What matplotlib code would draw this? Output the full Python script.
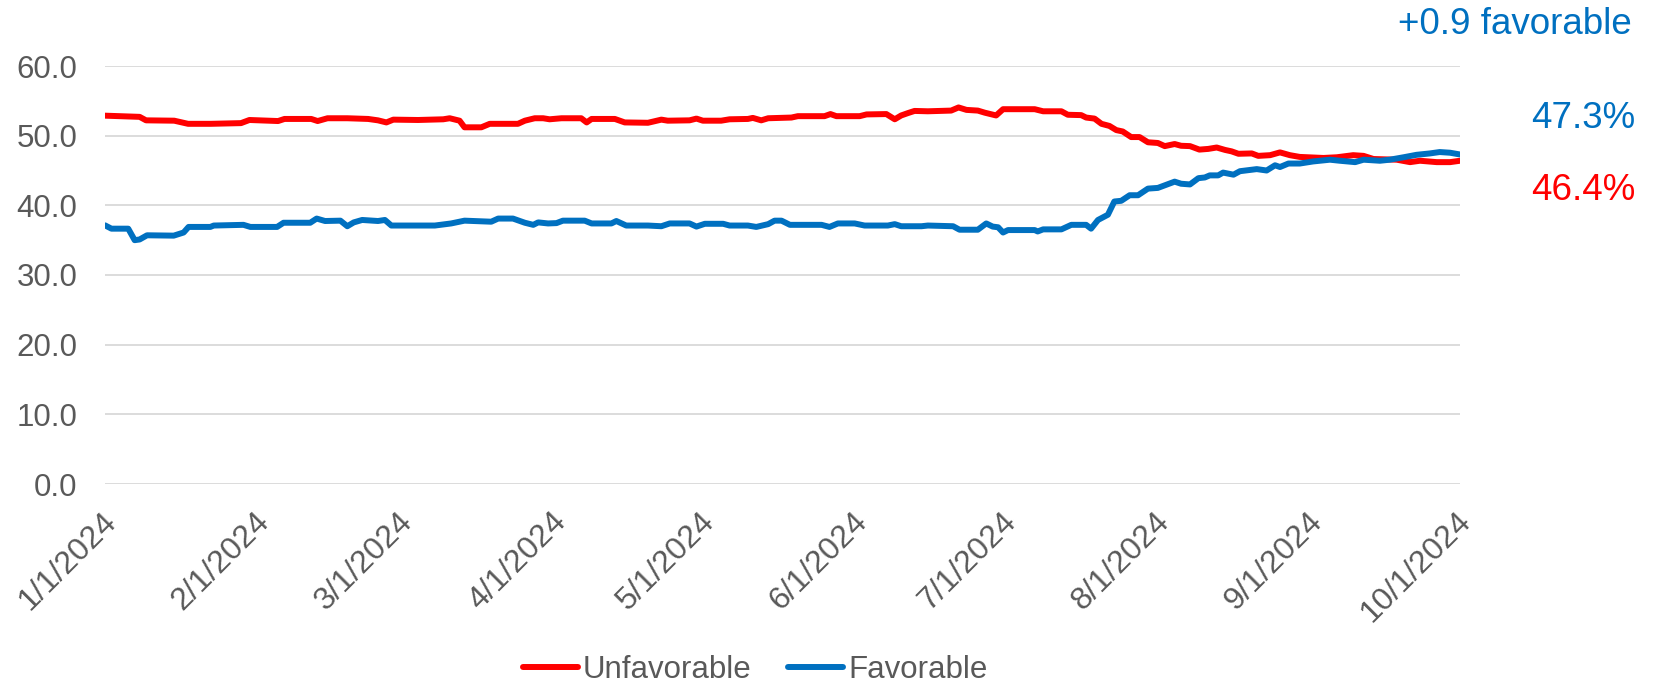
import matplotlib
matplotlib.use("Agg")
import matplotlib.pyplot as plt
import matplotlib.dates as mdates
import matplotlib.transforms as mtransforms
import numpy as np
import pandas as pd

# days since 1/1/2024 and values
red_days = [0, 7, 8.3, 14, 16.8, 21.4, 27.5, 29.2, 35, 36.3, 41.7, 43, 45, 49, 53.2, 55.2, 56.9, 58.3,
            63.3, 68.4, 69.7, 71.7, 72.7, 76.1, 77.8, 83.5, 84.9, 86.9, 88.6, 89.9, 92.3, 96.3, 97.4,
            98.4, 103.1, 105.1, 109.8, 112.5, 113.8, 118.2, 119.6, 120.9, 124.6, 126.3, 130, 131,
            132.7, 134.1, 138.8, 140.1, 145.5, 146.7, 147.9, 152.6, 154, 158, 159.7, 161, 162.4,
            163.7, 166.4, 171.1, 172.6, 174.2, 176.5, 177.9, 180.2, 181.6, 188, 189.7, 193.4, 194.7,
            197.4, 198.4, 200.1, 201.5, 203.1, 204.5, 205.8, 207.5, 209.2, 210.9, 212.9, 214.3,
            216.3, 217.6, 219.4, 221.3, 223.1, 224.8, 226.5, 227.8, 229.2, 231.9, 233.2, 235.6,
            237.6, 239.6, 241.6, 246.4, 249.1, 252.4, 254.5, 256.5, 261.2, 263.9, 265.9, 269.3,
            272, 274]
red_vals = [52.87, 52.7, 52.2, 52.15, 51.7, 51.7, 51.8, 52.25, 52.1, 52.4, 52.4, 52.1, 52.5, 52.5, 52.4,
            52.2, 51.9, 52.3, 52.25, 52.35, 52.5, 52.15, 51.2, 51.2, 51.7, 51.7, 52.15, 52.5, 52.5,
            52.35, 52.5, 52.5, 51.9, 52.4, 52.4, 51.9, 51.85, 52.3, 52.15, 52.2, 52.45, 52.15, 52.15,
            52.35, 52.4, 52.55, 52.2, 52.5, 52.6, 52.8, 52.8, 53.1, 52.8, 52.8, 53.05, 53.1, 52.35,
            52.9, 53.25, 53.55, 53.5, 53.6, 54.05, 53.7, 53.6, 53.3, 52.9, 53.8, 53.8, 53.5, 53.5,
            53.0, 52.95, 52.6, 52.45, 51.7, 51.4, 50.8, 50.6, 49.8, 49.8, 49.05, 48.95, 48.5, 48.8,
            48.55, 48.5, 48.0, 48.1, 48.3, 47.95, 47.75, 47.4, 47.45, 47.1, 47.2, 47.6, 47.2, 46.95,
            46.8, 46.9, 47.2, 47.1, 46.65, 46.55, 46.2, 46.4, 46.2, 46.2, 46.4]

blue_days = [0, 1.3, 4.7, 6, 7, 8.5, 13.9, 15.9, 16.9, 21.3, 22, 28, 29.4, 34.8, 36.1, 41.5, 42.8, 44.5,
             47.6, 49, 50.3, 52, 55.2, 56.6, 57.9, 66.7, 70, 72.7, 78.1, 79.5, 82.5, 84.9, 86.6, 87.6,
             89.6, 91.3, 92.6, 97, 98.4, 102.4, 103.4, 105.4, 109.8, 112.5, 114.2, 118.2, 119.6, 121.3,
             125, 126.3, 130, 131.7, 134.1, 135.4, 136.8, 138.5, 144.9, 146.5, 148.2, 151.6, 153.6,
             158.3, 159.7, 161, 165.1, 166.4, 171.5, 172.8, 176.5, 178.2, 179.5, 180.6, 181.6, 182.6,
             188, 188.6, 189.7, 193.4, 195.4, 198.4, 199.4, 200.8, 202.8, 204.1, 205.5, 207.2, 208.9,
             210.9, 212.9, 214.6, 216.3, 217.6, 219.4, 221.1, 222.4, 223.4, 225.1, 226.1, 228.2,
             229.5, 232.9, 234.9, 236.6, 237.6, 239.3, 241.6, 244.3, 247.7, 249.7, 252.8, 254.5,
             257.8, 259.8, 262.6, 265.2, 267.9, 269.9, 272, 274]
blue_vals = [37.13, 36.65, 36.65, 35.0, 35.1, 35.7, 35.65, 36.1, 36.9, 36.9, 37.1, 37.2, 36.9, 36.9, 37.5,
             37.5, 38.1, 37.75, 37.8, 37.0, 37.55, 37.9, 37.75, 37.9, 37.1, 37.1, 37.4, 37.8, 37.65,
             38.1, 38.1, 37.5, 37.2, 37.55, 37.4, 37.45, 37.8, 37.8, 37.4, 37.4, 37.75, 37.1, 37.1,
             37.0, 37.4, 37.4, 36.95, 37.35, 37.35, 37.1, 37.1, 36.9, 37.3, 37.8, 37.8, 37.2, 37.2,
             36.9, 37.4, 37.4, 37.1, 37.1, 37.3, 37.0, 37.0, 37.1, 37.0, 36.5, 36.5, 37.4, 36.95,
             36.85, 36.1, 36.45, 36.45, 36.25, 36.55, 36.55, 37.2, 37.2, 36.65, 37.9, 38.65, 40.55,
             40.65, 41.45, 41.45, 42.4, 42.5, 42.95, 43.4, 43.1, 43.0, 43.9, 44.0, 44.3, 44.3, 44.7,
             44.4, 44.9, 45.2, 45.0, 45.75, 45.5, 46.0, 46.0, 46.3, 46.55, 46.4, 46.2, 46.55, 46.4,
             46.55, 46.9, 47.25, 47.45, 47.65, 47.55, 47.3]

fav_label = "+0.9 favorable"
fav_last = "47.3%"
unfav_last = "46.4%"

RED = "#FF0000"
BLUE = "#0070C0"
GREY = "#595959"

plt.rcParams['font.family'] = ['Liberation Sans', 'DejaVu Sans']

start = pd.Timestamp("2024-01-01")
red_x = start + pd.to_timedelta(red_days, unit="D")
blue_x = start + pd.to_timedelta(blue_days, unit="D")

fig = plt.figure(figsize=(16.54, 6.87), dpi=100)
ax = fig.add_axes([105 / 1654, 1 - 484 / 687, (1460 - 105) / 1654, (484 - 66) / 687])

ax.plot(red_x, red_vals, color=RED, lw=4.3, label="Unfavorable", solid_capstyle="round", zorder=3)
ax.plot(blue_x, blue_vals, color=BLUE, lw=4.3, label="Favorable", solid_capstyle="round", zorder=3)

ax.set_xlim(pd.Timestamp("2024-01-01"), pd.Timestamp("2024-10-01"))
ax.set_ylim(0, 60)
ax.set_yticks(np.arange(0, 61, 10))
ax.yaxis.set_major_formatter(plt.FuncFormatter(lambda v, p: f"{v:.1f}"))
ax.grid(axis="y", color="#D9D9D9", lw=1.3)
ax.set_axisbelow(True)
for s in ax.spines.values():
    s.set_visible(False)

ax.xaxis.set_major_locator(mdates.MonthLocator())
ax.xaxis.set_major_formatter(plt.FuncFormatter(
    lambda v, p: f"{mdates.num2date(v).month}/{mdates.num2date(v).day}/{mdates.num2date(v).year}"))
ax.tick_params(axis="both", length=0, labelcolor=GREY)
ax.tick_params(axis="y", pad=20, labelsize=22.5)
ax.tick_params(axis="x", pad=16, labelsize=23)
shift = mtransforms.ScaledTranslation(-4 / 100, 0, fig.dpi_scale_trans)
for lbl in ax.get_xticklabels():
    lbl.set_rotation(45)
    lbl.set_ha("right")
    lbl.set_rotation_mode("anchor")
    lbl.set_transform(lbl.get_transform() + shift)

fig.text(1632 / 1654, 1 - 24 / 687, fav_label, color=BLUE, fontsize=26.5, ha="right", va="center")
fig.text(1635 / 1654, 1 - 118 / 687, fav_last, color=BLUE, fontsize=26.5, ha="right", va="center")
fig.text(1635 / 1654, 1 - 190 / 687, unfav_last, color=RED, fontsize=26.5, ha="right", va="center")

leg = fig.legend(loc="center", bbox_to_anchor=(755 / 1654, 1 - 670 / 687), ncol=2, frameon=False,
                 fontsize=22.5, handlelength=1.76, handletextpad=0.16, columnspacing=1.18)
for t in leg.get_texts():
    t.set_color(GREY)

fig.savefig("out.png", dpi=100)
